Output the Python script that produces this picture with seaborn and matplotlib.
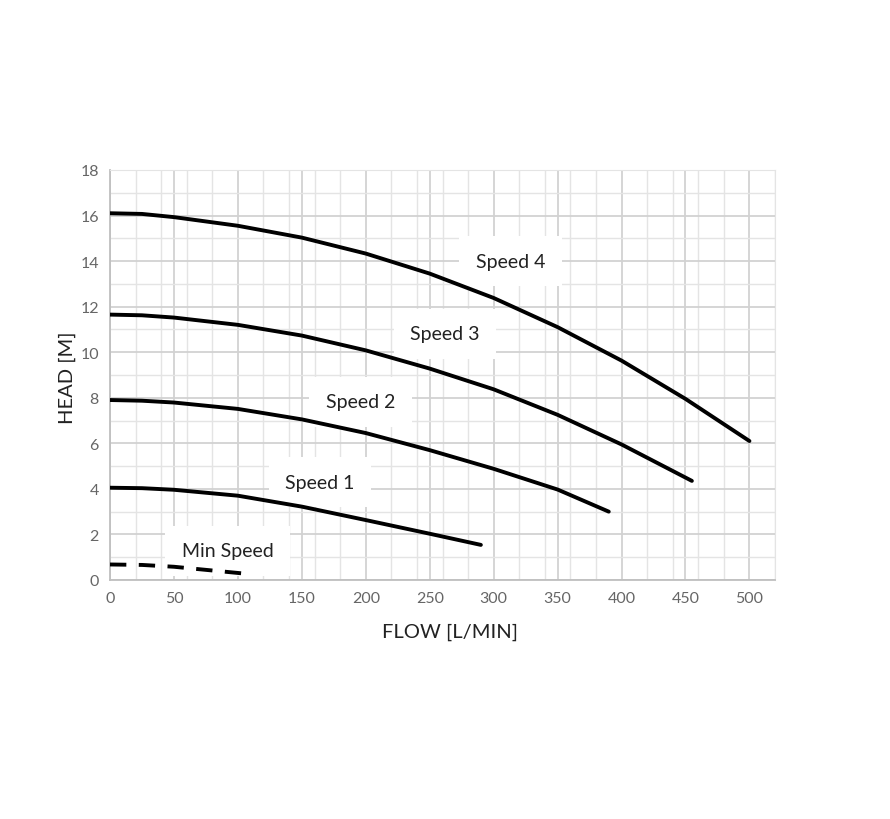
import numpy as np
import pandas as pd
import seaborn as sns
import matplotlib.pyplot as plt
from matplotlib.ticker import MultipleLocator

# Courbes (débit en L/min, hauteur en m)
flow_s4 = [0, 25, 50, 100, 150, 200, 250, 300, 350, 400, 450, 500]
head_s4 = [16.1, 16.07, 15.93, 15.55, 15.03, 14.33, 13.45, 12.38, 11.1, 9.63, 7.95, 6.1]

flow_s3 = [0, 25, 50, 100, 150, 200, 250, 300, 350, 400, 455]
head_s3 = [11.65, 11.62, 11.52, 11.2, 10.73, 10.08, 9.28, 8.37, 7.25, 5.95, 4.35]

flow_s2 = [0, 25, 50, 100, 150, 200, 250, 300, 350, 390]
head_s2 = [7.9, 7.87, 7.79, 7.51, 7.05, 6.45, 5.7, 4.88, 3.97, 3.0]

flow_s1 = [0, 25, 50, 100, 150, 200, 250, 290]
head_s1 = [4.05, 4.03, 3.96, 3.7, 3.22, 2.63, 2.03, 1.54]

flow_min = [0, 25, 50, 83, 107]
head_min = [0.68, 0.66, 0.58, 0.4, 0.27]

labels = ["Speed 4", "Speed 3", "Speed 2", "Speed 1", "Min Speed"]
label_x = [313, 262, 196, 164, 92]
label_y = [14.0, 10.8, 7.83, 4.29, 1.29]

sns.set_style("white")
plt.rcParams['font.family'] = ['Lato', 'DejaVu Sans']

fig = plt.figure(figsize=(8.9, 8.2), dpi=100)
ax = fig.add_axes([0.1236, 0.2915, 0.7472, 0.5])

for fx, hy, dashed in [(flow_s4, head_s4, False), (flow_s3, head_s3, False), (flow_s2, head_s2, False),
                       (flow_s1, head_s1, False), (flow_min, head_min, True)]:
    df = pd.DataFrame({'flow': fx, 'head': hy})
    sns.lineplot(data=df, x='flow', y='head', ax=ax, color='black', linewidth=2.8, zorder=3)
    if dashed:
        ax.lines[-1].set_dashes((4.2, 3.2))
    ax.lines[-1].set_solid_capstyle('round')

for lab, lx, ly in zip(labels, label_x, label_y):
    ax.text(lx, ly, lab, ha='center', va='center', fontsize=14, color='#222222', zorder=2.5,
            bbox=dict(boxstyle='square,pad=0.85', facecolor='white', edgecolor='none'))

ax.set_xlim(0, 520)
ax.set_ylim(0, 18)
ax.xaxis.set_major_locator(MultipleLocator(50))
ax.xaxis.set_minor_locator(MultipleLocator(20))
ax.yaxis.set_major_locator(MultipleLocator(2))
ax.yaxis.set_minor_locator(MultipleLocator(1))
ax.grid(which='major', color='#d2d2d2', linewidth=1.3, zorder=0)
ax.grid(which='minor', color='#e4e4e4', linewidth=1.0, zorder=0)
ax.set_axisbelow(True)
ax.tick_params(which='both', length=0, labelsize=11.5, labelcolor='#666666', pad=8)

for side in ['top', 'right']:
    ax.spines[side].set_color('#e4e4e4')
for side in ['left', 'bottom']:
    ax.spines[side].set_color('#bfbfbf')
    ax.spines[side].set_linewidth(1.3)

ax.set_xlabel('FLOW [L/MIN]', fontsize=14.5, color='#222222')
ax.set_ylabel('HEAD [M]', fontsize=14.5, color='#222222')
ax.xaxis.set_label_coords(0.512, -0.105)
ax.yaxis.set_label_coords(-0.051, 0.495)

fig.savefig('out.png', dpi=100, facecolor='white')
